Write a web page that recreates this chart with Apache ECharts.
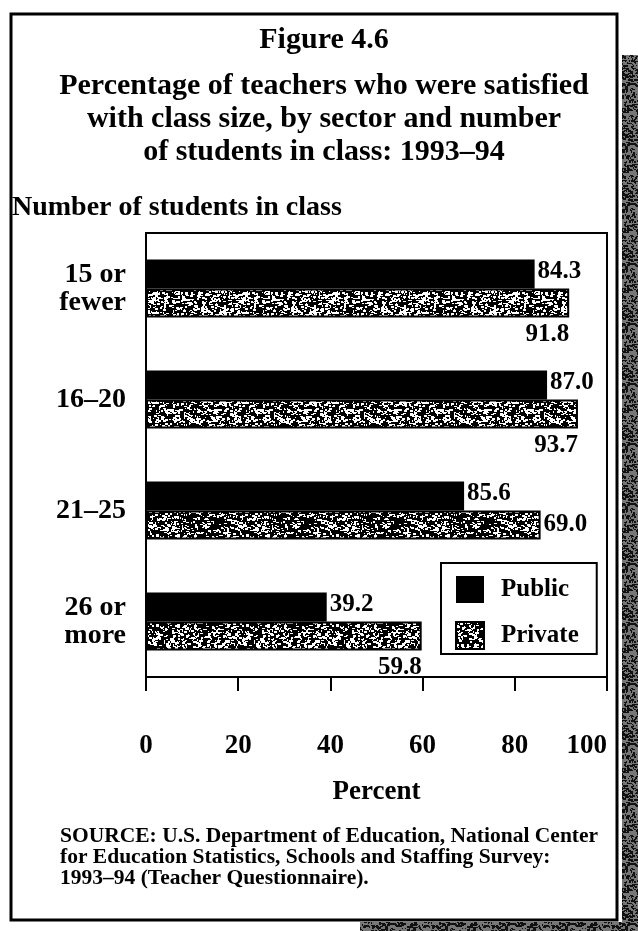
<!DOCTYPE html>
<html>
<head>
<meta charset="utf-8">
<script src="https://cdn.jsdelivr.net/npm/echarts@6/dist/echarts.min.js"></script>
<style>
  html, body { margin: 0; padding: 0; background: #fff; }
  #chart { width: 638px; height: 931px; }
</style>
</head>
<body>
<div id="chart"></div>
<script>
// values
const categories = ['15 or\nfewer', '16–20', '21–25', '26 or\nmore'];
const seriesNames = ['Public', 'Private'];
// bar lengths as drawn (the 21–25 bars are printed with swapped labels)
const publicValues = [84.3, 87.0, 69.0, 39.2];
const privateValues = [91.8, 93.7, 85.6, 59.8];
// value labels as printed
const publicLabels = ['84.3', '87.0', '85.6', '39.2'];
const privateLabels = ['91.8', '93.7', '69.0', '59.8'];
const xTicks = [0, 20, 40, 60, 80, 100];

const titleLines = [
  'Figure 4.6',
  'Percentage of teachers who were satisfied',
  'with class size, by sector and number',
  'of students in class: 1993–94'
];
const sourceLines = [
  'SOURCE: U.S. Department of Education, National Center',
  'for Education Statistics, Schools and Staffing Survey:',
  '1993–94 (Teacher Questionnaire).'
];

const SERIF = '"Liberation Serif", "DejaVu Serif", serif';

// speckled fill like the printed halftone
function speckle(size, count, seed, bg, fg) {
  const c = document.createElement('canvas');
  c.width = c.height = size;
  const ctx = c.getContext('2d');
  ctx.fillStyle = bg;
  ctx.fillRect(0, 0, size, size);
  ctx.fillStyle = fg;
  let s = seed >>> 0;
  const rnd = () => { s = (Math.imul(s, 1664525) + 1013904223) >>> 0; return s / 4294967296; };
  for (let i = 0; i < count; i++) {
    const x = Math.floor(rnd() * size), y = Math.floor(rnd() * size);
    ctx.fillRect(x, y, 1 + Math.floor(rnd() * 3), 1 + Math.floor(rnd() * 2));
  }
  return c;
}
const privateFill = { image: speckle(90, 1300, 7, '#000', '#fff'), repeat: 'repeat' };
const edgeFill = { image: speckle(60, 700, 3, '#777', '#111'), repeat: 'repeat' };

const labelFont = { fontFamily: SERIF, fontWeight: 'bold', fontSize: 25, color: '#000' };

const publicData = publicValues.map((v, i) => ({
  value: v,
  label: { show: true, position: 'right', distance: 3, offset: [0, -2], formatter: publicLabels[i], ...labelFont }
}));
const privateData = privateValues.map((v, i) => ({
  value: v,
  label: i === 2
    ? { show: true, position: 'right', distance: 3, formatter: privateLabels[i], ...labelFont }
    : { show: true, position: 'insideBottomRight', distance: 0, align: 'right', verticalAlign: 'top',
        offset: [0, 5], formatter: privateLabels[i], ...labelFont }
}));

const chart = echarts.init(document.getElementById('chart'));

const graphics = [
  { type: 'rect', shape: { x: 622, y: 55, width: 16, height: 876 }, style: { fill: edgeFill } },
  { type: 'rect', shape: { x: 360, y: 922, width: 278, height: 9 }, style: { fill: edgeFill } },
  { type: 'rect', shape: { x: 11, y: 14, width: 606, height: 906 }, style: { fill: 'none', stroke: '#000', lineWidth: 3 } },
  {
    type: 'text',
    style: { text: 'Number of students in class', x: 12, y: 208, font: 'bold 28px ' + SERIF,
      textAlign: 'left', textVerticalAlign: 'middle', fill: '#000' }
  }
];
const titleY = [40, 86, 119, 152];
titleLines.forEach((t, i) => {
  graphics.push({
    type: 'text',
    style: { text: t, x: 324, y: titleY[i], font: 'bold 30px ' + SERIF,
      textAlign: 'center', textVerticalAlign: 'middle', fill: '#000' }
  });
});
sourceLines.forEach((t, i) => {
  graphics.push({
    type: 'text',
    style: { text: t, x: 60, y: 836 + i * 21, font: 'bold 21.5px ' + SERIF,
      textAlign: 'left', textVerticalAlign: 'middle', fill: '#000' }
  });
});

chart.setOption({
  animation: false,
  backgroundColor: '#fff',
  grid: {
    left: 146, right: 31, top: 233, bottom: 254,
    show: true, borderColor: '#000', borderWidth: 2, backgroundColor: 'transparent'
  },
  legend: {
    data: seriesNames,
    orient: 'vertical',
    left: 441, top: 563,
    itemWidth: 28, itemHeight: 27, itemGap: 18,
    padding: [13, 18, 4, 14],
    borderColor: '#000', borderWidth: 2,
    icon: 'rect',
    textStyle: { fontFamily: SERIF, fontWeight: 'bold', fontSize: 25, color: '#000', padding: [0, 0, 0, 12] }
  },
  xAxis: {
    type: 'value',
    min: xTicks[0], max: xTicks[xTicks.length - 1], interval: 20,
    name: 'Percent', nameLocation: 'middle', nameGap: 102,
    nameTextStyle: { fontFamily: SERIF, fontWeight: 'bold', fontSize: 27, color: '#000' },
    axisLine: { show: true, lineStyle: { color: '#000', width: 2 } },
    axisTick: { show: true, length: 14, lineStyle: { color: '#000', width: 2 } },
    axisLabel: { margin: 56, alignMaxLabel: 'right', fontFamily: SERIF, fontWeight: 'bold', fontSize: 27, color: '#000' },
    splitLine: { show: false }
  },
  yAxis: {
    type: 'category',
    inverse: true,
    data: categories,
    axisLine: { show: true, lineStyle: { color: '#000', width: 2 } },
    axisTick: { show: false },
    axisLabel: { margin: 20, fontFamily: SERIF, fontWeight: 'bold', fontSize: 28, lineHeight: 28, color: '#000' }
  },
  series: [
    {
      name: seriesNames[0], type: 'bar', data: publicData,
      barWidth: 29, barGap: '0%',
      itemStyle: { color: '#000' }
    },
    {
      name: seriesNames[1], type: 'bar', data: privateData,
      barWidth: 29, barGap: '0%',
      itemStyle: { color: privateFill, borderColor: '#000', borderWidth: 2 }
    }
  ],
  graphic: graphics
});
</script>
</body>
</html>
